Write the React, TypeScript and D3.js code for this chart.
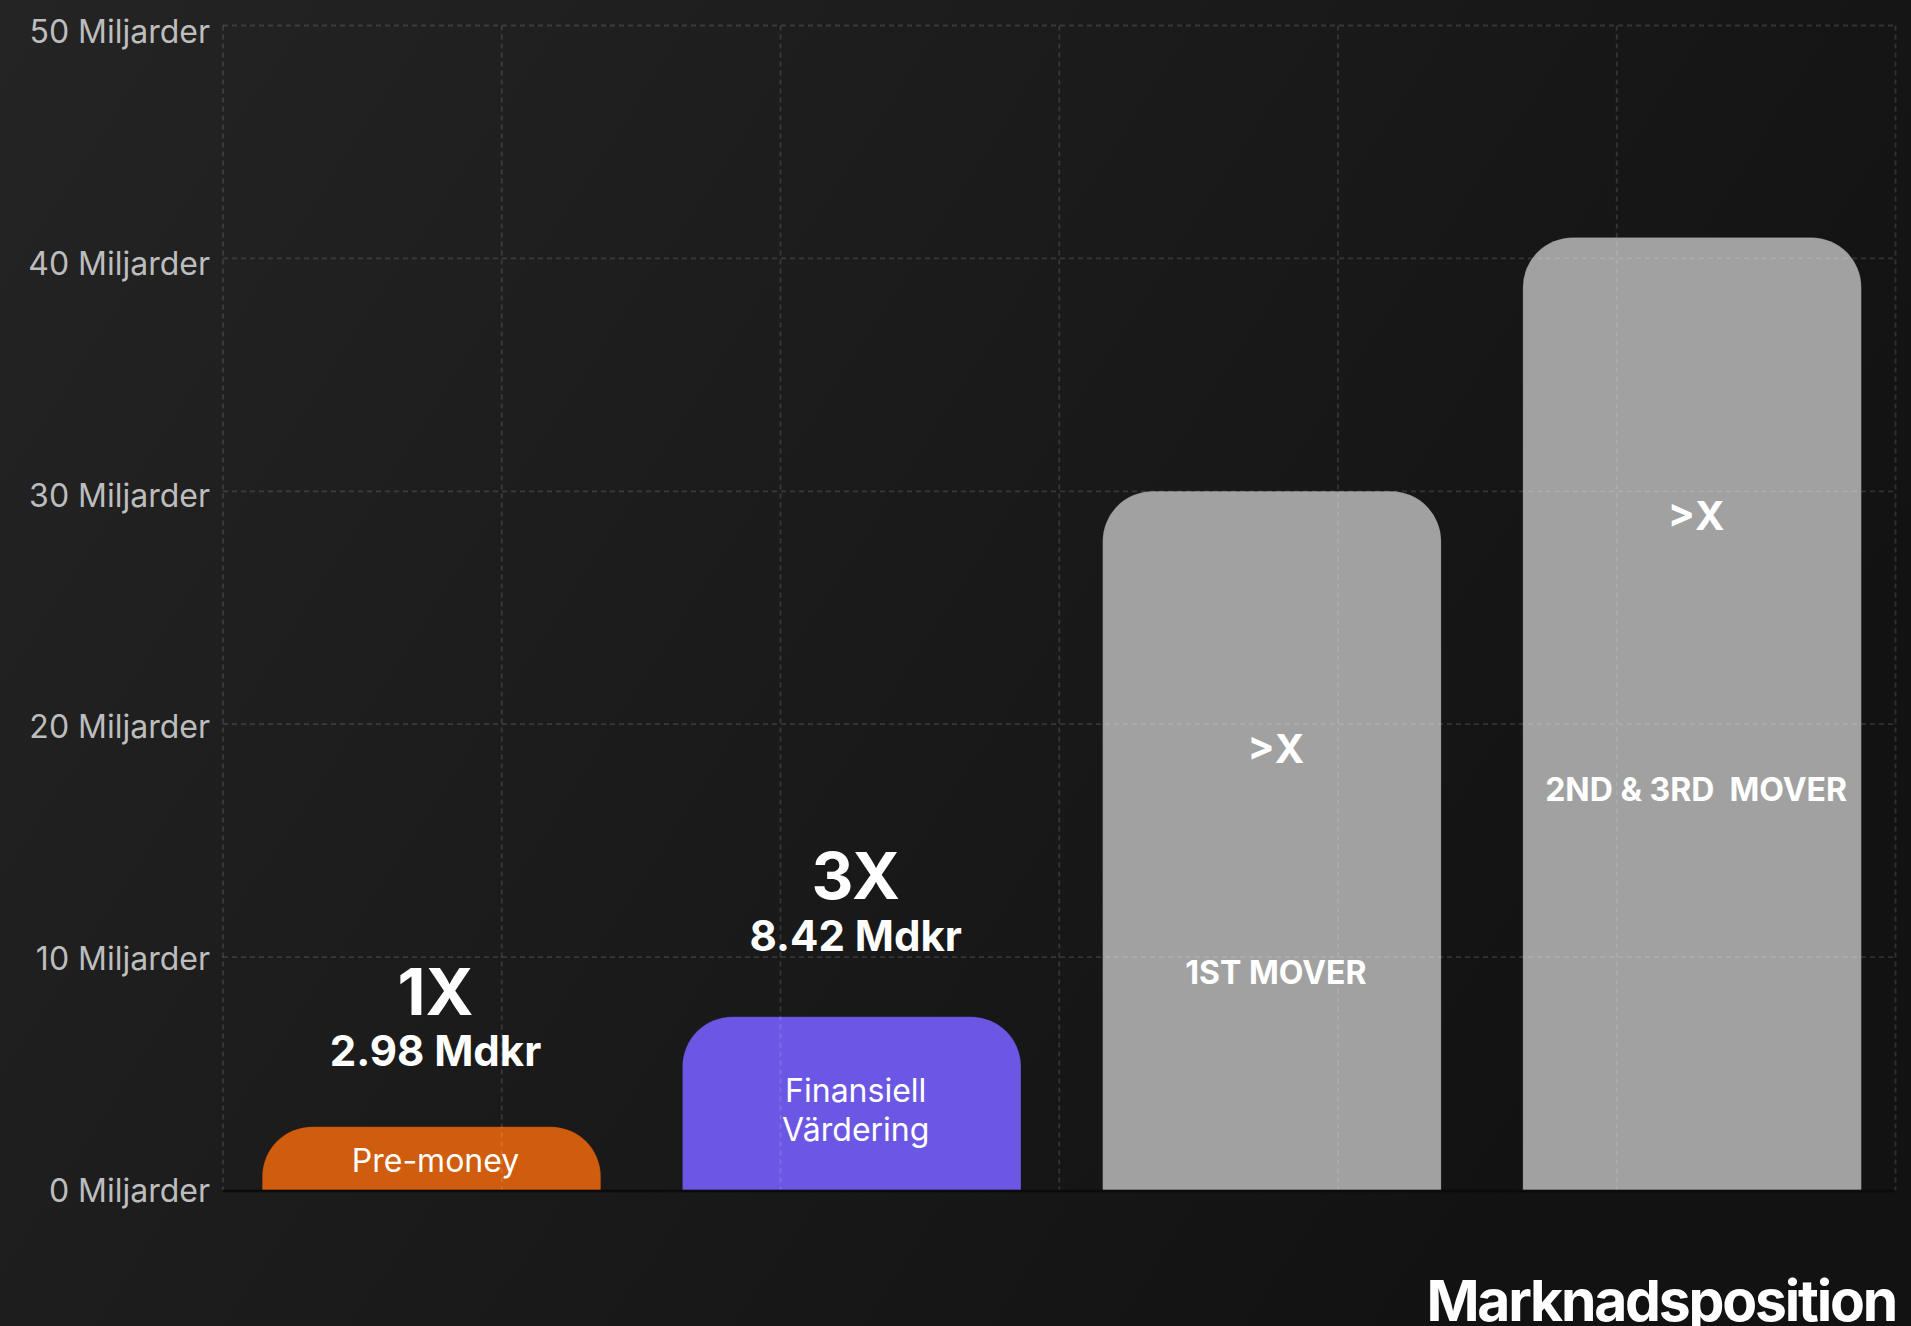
import React from "react";
import * as d3 from "d3";

// ---- data ----
const categories = ["Pre-money", "Finansiell Värdering", "1ST MOVER", "2ND & 3RD  MOVER"];
const values = [2.72, 7.44, 30, 40.9]; // Miljarder (bar heights)
const multipliers = ["1X", "3X", ">X", ">X"];
const valueLabels = ["2.98 Mdkr", "8.42 Mdkr", "", ""];
const innerLabels = [["Pre-money"], ["Finansiell", "Värdering"], ["1ST MOVER"], ["2ND & 3RD  MOVER"]];
// annotation anchors (Miljarder) for the text baselines
const multiplierAt = [7.51, 12.48, 18.34, 28.33];
const valueLabelAt = [5.34, 10.27, 0, 0];
const innerLabelAt = [0.79, 3.79, 8.83, 16.71];
const yTicks = [0, 10, 20, 30, 40, 50];
const xTitle = "Marknadsposition";
const tickSuffix = " Miljarder";

const W = 1911;
const H = 1326;

export default function App() {
  const left = 223;
  const right = 1895.5;
  const y = d3.scaleLinear().domain([0, 50]).range([1190, 25.5]);
  const yLabel = d3.scaleLinear().domain([0, 50]).range([1190, 31.7]);
  const x = d3
    .scaleBand<string>()
    .domain(categories)
    .range([221.4, 1902.2])
    .paddingInner(0.1944)
    .paddingOuter(0.0972);
  const vGrid = d3.scaleLinear().domain([0, 6]).range([left, right]);
  const colors = ["#D05C0E", "#6C57E4", "#A1A1A1", "#A1A1A1"];
  const r = 50;
  const bw = x.bandwidth();

  const barPath = (i: number) => {
    const x0 = x(categories[i])!;
    const x1 = x0 + bw;
    const top = y(values[i]);
    const base = y(0);
    const rr = Math.min(r, base - top, bw / 2);
    const p = d3.path();
    p.moveTo(x0, base);
    p.lineTo(x0, top + rr);
    p.arcTo(x0, top, x0 + rr, top, rr);
    p.lineTo(x1 - rr, top);
    p.arcTo(x1, top, x1, top + rr, rr);
    p.lineTo(x1, base);
    p.closePath();
    return p.toString();
  };

  const font = "Inter, 'Noto Sans', sans-serif";
  const dx = 4;

  return (
    <div style={{ position: "absolute", left: 0, top: 0 }}>
      <style>{`body{margin:0;}`}</style>
      <svg width={W} height={H} style={{ display: "block" }} fontFamily={font}>
        <defs>
          <linearGradient id="bg" x1="0" y1="0" x2="1" y2="0.45">
            <stop offset="0" stopColor="#242424" />
            <stop offset="1" stopColor="#121212" />
          </linearGradient>
        </defs>
        <rect x={0} y={0} width={W} height={H} fill="url(#bg)" />

        {/* bars */}
        {categories.map((c, i) => (
          <path key={c} d={barPath(i)} fill={colors[i]} stroke="rgba(0,0,0,0.12)" strokeWidth={1} />
        ))}

        {/* grid */}
        {yTicks
          .filter((t) => t !== 0)
          .map((t) => (
            <line
              key={"h" + t}
              x1={left}
              x2={right}
              y1={y(t)}
              y2={y(t)}
              stroke="rgba(255,255,255,0.13)"
              strokeWidth={1.8}
              strokeDasharray="5 4"
            />
          ))}
        {d3.range(7).map((k) => (
          <line
            key={"v" + k}
            x1={vGrid(k)}
            x2={vGrid(k)}
            y1={y(50)}
            y2={y(0)}
            stroke="rgba(255,255,255,0.13)"
            strokeWidth={1.8}
            strokeDasharray="5 4"
          />
        ))}
        {/* axis line */}
        <line x1={left} x2={right - 2} y1={y(0) + 1} y2={y(0) + 1} stroke="#0b0b0b" strokeWidth={2.5} />

        {/* y tick labels */}
        {yTicks.map((t) => (
          <text
            key={"t" + t}
            x={210}
            y={yLabel(t) + 11.6}
            textAnchor="end"
            fontSize={32}
            fill="#bdbdbd"
          >
            {t + tickSuffix}
          </text>
        ))}

        {/* annotations */}
        {categories.map((c, i) => {
          const cx = x(c)! + bw / 2 + dx;
          const big = i < 2;
          return (
            <g key={"a" + c} fill="#ffffff" textAnchor="middle">
              <text x={cx} y={y(multiplierAt[i])} fontSize={big ? 65 : 40} fontWeight={700}>
                {multipliers[i]}
              </text>
              {valueLabels[i] && (
                <text x={cx} y={y(valueLabelAt[i])} fontSize={42} fontWeight={700}>
                  {valueLabels[i]}
                </text>
              )}
              {innerLabels[i].map((ln, j) => (
                <text
                  key={j}
                  x={cx}
                  y={y(innerLabelAt[i]) + j * 39}
                  fontSize={32}
                  fontWeight={big ? 400 : 700}
                  style={{ whiteSpace: "pre" }}
                >
                  {ln}
                </text>
              ))}
            </g>
          );
        })}

        {/* x title */}
        <text
          x={1896}
          y={1321}
          textAnchor="end"
          fontSize={57}
          fontWeight={700}
          letterSpacing={-2.2}
          fill="#ffffff"
        >
          {xTitle}
        </text>
      </svg>
    </div>
  );
}
